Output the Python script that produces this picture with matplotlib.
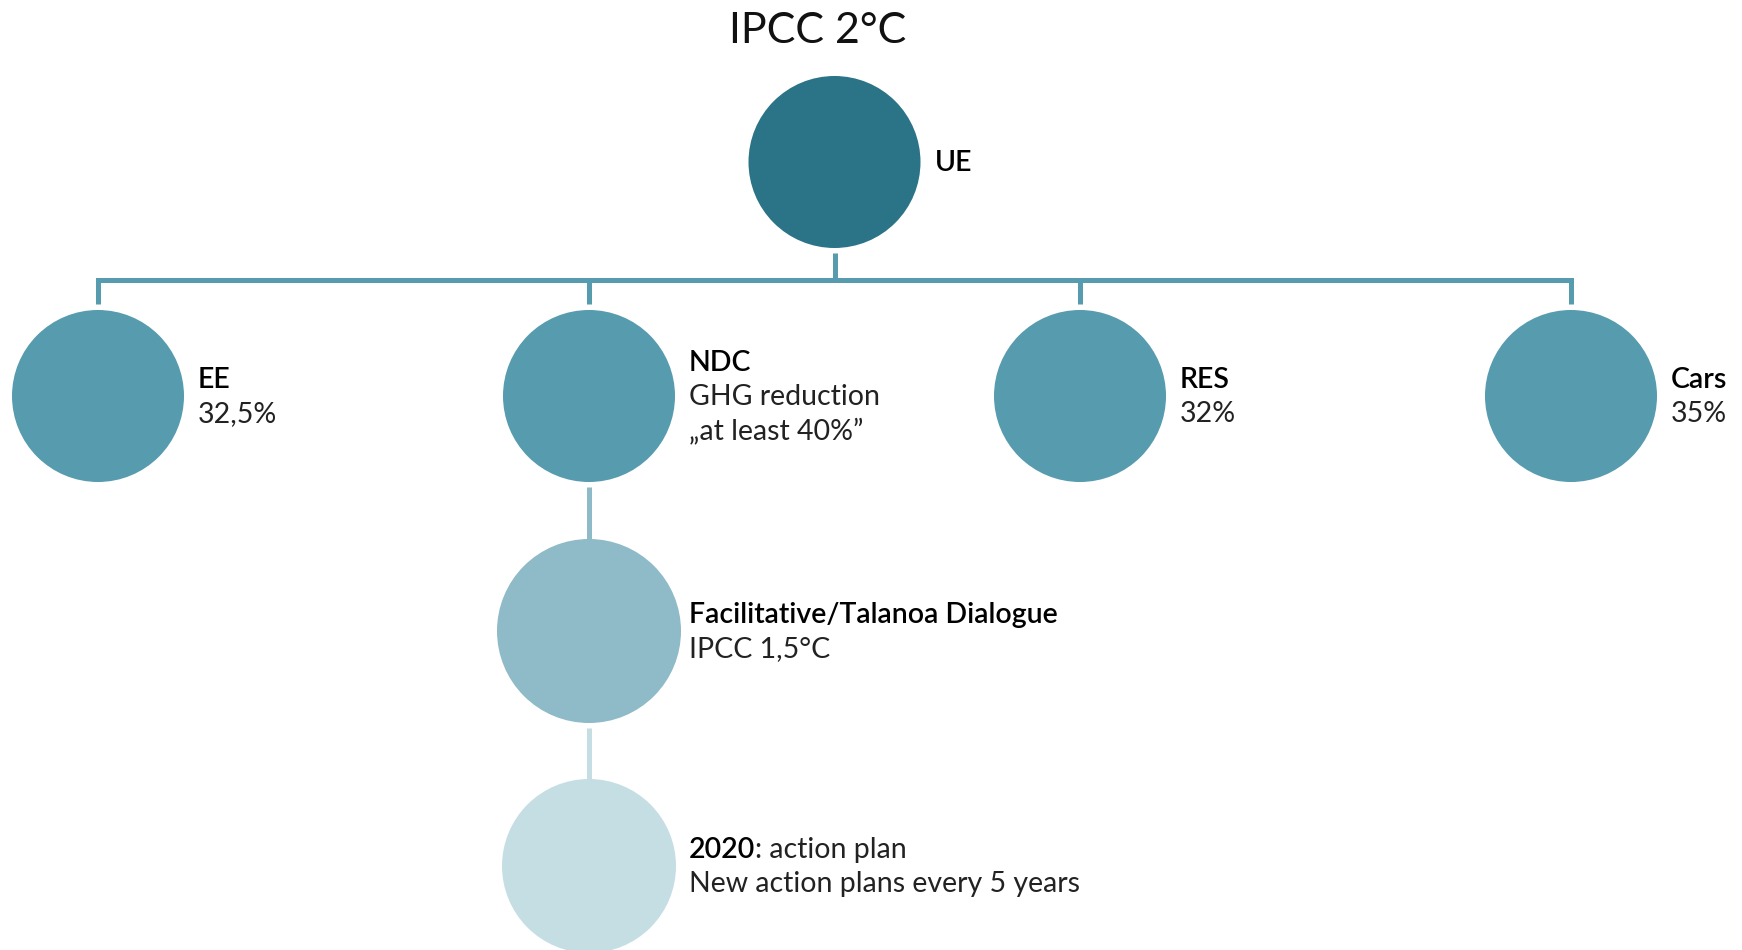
"""
Tree diagram: EU climate targets under IPCC 2°C.
"""

import matplotlib
matplotlib.use('Agg')
import matplotlib.pyplot as plt
from matplotlib.patches import Circle

plt.rcParams['font.family'] = ['Lato', 'DejaVu Sans']

TITLE = 'IPCC 2°C'

# nodes: (title, subtitle lines)
ROOT_LABEL = 'UE'
TARGETS = ['EE', 'NDC', 'RES', 'Cars']
TARGET_TEXT = [['32,5%'], ['GHG reduction', '„at least 40%”'], ['32%'], ['35%']]
CHAIN_TITLES = ['Facilitative/Talanoa Dialogue', '2020']
CHAIN_SUFFIX = ['', ': action plan']
CHAIN_TEXT = [['IPCC 1,5°C'], ['New action plans every 5 years']]
CHAIN_PARENT = 'NDC'

# layout (pixels, figure is 1742 x 950 at dpi 100)
W, H = 1742, 950
X0, DX = 98, 491
LEVEL_Y = [162, 396, 631, 866]
RADIUS = [86, 86, 92, 87]
COLORS = ['#2b7387', '#569bae', '#8fbac7', '#c5dee4']
BAR_Y = 279.5
LW = 3.6
FS = 20.5
LINE = 34
TXT_DX = 100

fig = plt.figure(figsize=(W / 100, H / 100), dpi=100)
ax = fig.add_axes([0, 0, 1, 1])
ax.set_xlim(0, W)
ax.set_ylim(H, 0)
ax.set_aspect('equal')
ax.axis('off')


def label(cx, cy, title, lines, suffix=''):
    n = 1 + len(lines)
    y = cy + 26 - 17 * n
    t = ax.text(cx + TXT_DX, y, title, fontsize=FS, fontweight='semibold',
                color='black', va='baseline', ha='left')
    if suffix:
        ax.annotate(suffix, xy=(1, 0), xycoords=t, fontsize=FS,
                    fontweight='normal', color='#222222', va='bottom', ha='left')
    for i, s in enumerate(lines):
        ax.text(cx + TXT_DX, y + LINE * (i + 1), s, fontsize=FS,
                fontweight='normal', color='#222222', va='baseline', ha='left')


target_x = [X0 + DX * i for i in range(len(TARGETS))]
root_x = (target_x[0] + target_x[-1]) / 2

# connectors root -> targets
ax.plot([root_x, root_x], [LEVEL_Y[0] + RADIUS[0] + 5, BAR_Y],
        color=COLORS[1], lw=LW, solid_capstyle='butt')
ax.plot([target_x[0], target_x[-1]], [BAR_Y, BAR_Y], color=COLORS[1],
        lw=LW, solid_capstyle='projecting')
for x in target_x:
    ax.plot([x, x], [BAR_Y, LEVEL_Y[1] - RADIUS[1] - 6], color=COLORS[1],
            lw=LW, solid_capstyle='butt')

# root
ax.add_patch(Circle((root_x, LEVEL_Y[0]), RADIUS[0], color=COLORS[0], lw=0))
label(root_x, LEVEL_Y[0], ROOT_LABEL, [])

# targets
for x, name, txt in zip(target_x, TARGETS, TARGET_TEXT):
    ax.add_patch(Circle((x, LEVEL_Y[1]), RADIUS[1], color=COLORS[1], lw=0))
    label(x, LEVEL_Y[1], name, txt)

# chain under NDC
cx = target_x[TARGETS.index(CHAIN_PARENT)]
for k, (name, suf, txt) in enumerate(zip(CHAIN_TITLES, CHAIN_SUFFIX, CHAIN_TEXT)):
    lvl = k + 2
    ax.plot([cx, cx], [LEVEL_Y[lvl - 1] + RADIUS[lvl - 1] + 5,
                       LEVEL_Y[lvl] - RADIUS[lvl]],
            color=COLORS[lvl], lw=LW, solid_capstyle='butt')
    ax.add_patch(Circle((cx, LEVEL_Y[lvl]), RADIUS[lvl], color=COLORS[lvl], lw=0))
    label(cx, LEVEL_Y[lvl], name, txt, suf)

ax.text(818, 43, TITLE, fontsize=31, fontweight='normal', ha='center',
        va='baseline', color='#111111')

fig.savefig('out.png', dpi=100)
